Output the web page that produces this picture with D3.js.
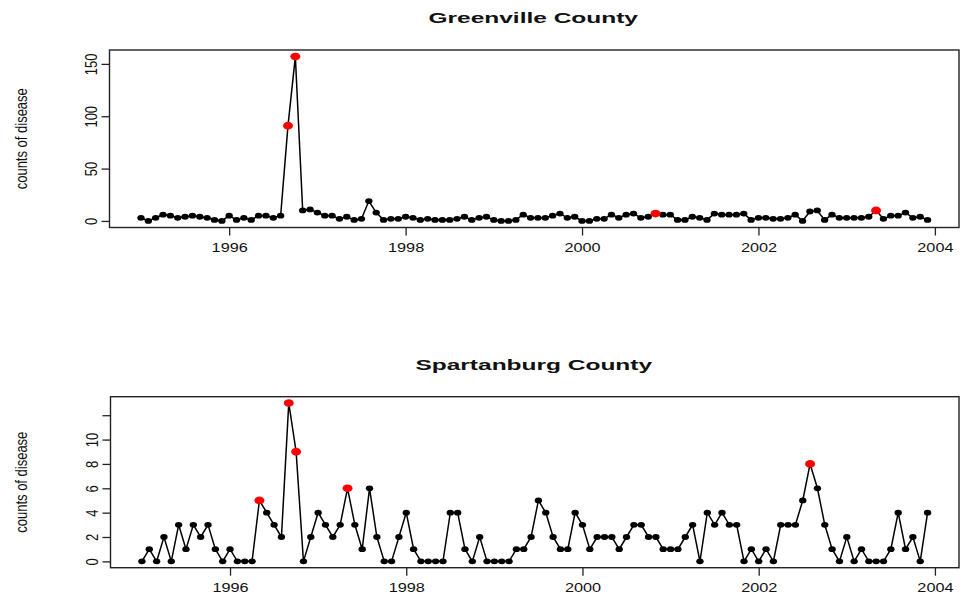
<!DOCTYPE html>
<html>
<head>
<meta charset="utf-8">
<script src="https://cdn.jsdelivr.net/npm/d3@7"></script>
<style>
  html, body { margin: 0; padding: 0; background: #fff; }
  svg { display: block; font-family: "Liberation Sans", Arial, Helvetica, sans-serif; }
</style>
</head>
<body>
<svg id="chart" width="964" height="600"></svg>
<script>
// Monthly counts of disease, January 1995 through December 2003
const startYear = 1995;

const greenvilleCounts = [
  3, 0, 3, 6, 5, 3, 4, 5, 4, 3, 1, 0,
  5, 1, 3, 1, 5, 5, 3, 5, 91, 157, 10, 11,
  8, 5, 5, 2, 4, 1, 2, 19, 8, 1, 2, 2,
  4, 3, 1, 2, 1, 1, 1, 2, 4, 1, 3, 4,
  1, 0, 0, 1, 6, 3, 3, 3, 5, 7, 3, 4,
  0, 0, 2, 2, 6, 3, 6, 7, 3, 4, 7, 6,
  6, 1, 1, 4, 3, 1, 7, 6, 6, 6, 7, 1,
  3, 3, 2, 2, 3, 6, 0, 9, 10, 1, 6, 3,
  3, 3, 3, 4, 10, 2, 5, 5, 8, 3, 4, 1
];

const spartanburgCounts = [
  0, 1, 0, 2, 0, 3, 1, 3, 2, 3, 1, 0,
  1, 0, 0, 0, 5, 4, 3, 2, 13, 9, 0, 2,
  4, 3, 2, 3, 6, 3, 1, 6, 2, 0, 0, 2,
  4, 1, 0, 0, 0, 0, 4, 4, 1, 0, 2, 0,
  0, 0, 0, 1, 1, 2, 5, 4, 2, 1, 1, 4,
  3, 1, 2, 2, 2, 1, 2, 3, 3, 2, 2, 1,
  1, 1, 2, 3, 0, 4, 3, 4, 3, 3, 0, 1,
  0, 1, 0, 3, 3, 3, 5, 8, 6, 3, 1, 0,
  2, 0, 1, 0, 0, 0, 1, 4, 1, 2, 0, 4
];

// Months flagged as alarms (year-month)
const greenvilleAlarms = ["1996-09", "1996-10", "2000-11", "2003-05"];
const spartanburgAlarms = ["1996-05", "1996-09", "1996-10", "1997-05", "2002-08"];

const xTickValues = [1996, 1998, 2000, 2002, 2004];
const greenvilleYTicks = [0, 50, 100, 150];
const greenvilleYLabels = ["0", "50", "100", "150"];
const spartanburgYTicks = [0, 2, 4, 6, 8, 10, 12];
const spartanburgYLabels = ["0", "2", "4", "6", "8", "10", ""];

const panelTitles = ["Greenville County", "Spartanburg County"];
const yAxisTitle = "counts of disease";

const svg = d3.select("#chart");

const panels = [
  { title: panelTitles[0], counts: greenvilleCounts, alarms: greenvilleAlarms,
    yTicks: greenvilleYTicks, yLabels: greenvilleYLabels,
    box: { left: 109.5, right: 959, top: 50, bottom: 227.5 }, titleY: 22.5 },
  { title: panelTitles[1], counts: spartanburgCounts, alarms: spartanburgAlarms,
    yTicks: spartanburgYTicks, yLabels: spartanburgYLabels,
    box: { left: 110.5, right: 959, top: 396.7, bottom: 567.7 }, titleY: 369.5 }
];

function monthKey(i) {
  const y = startYear + Math.floor(i / 12);
  const m = (i % 12) + 1;
  return y + "-" + (m < 10 ? "0" + m : m);
}

// R-style axis range: data extent padded by 4% on each side
function padded(ext) {
  const pad = (ext[1] - ext[0]) * 0.04;
  return [ext[0] - pad, ext[1] + pad];
}

panels.forEach(p => {
  const data = p.counts.map((v, i) => ({
    t: startYear + i / 12,
    v: v,
    alarm: p.alarms.includes(monthKey(i))
  }));

  const x = d3.scaleLinear()
    .domain(padded(d3.extent(data, d => d.t)))
    .range([p.box.left, p.box.right]);
  const y = d3.scaleLinear()
    .domain(padded([0, d3.max(data, d => d.v)]))
    .range([p.box.bottom, p.box.top]);

  const g = svg.append("g");

  // frame
  g.append("rect")
    .attr("x", p.box.left).attr("y", p.box.top)
    .attr("width", p.box.right - p.box.left)
    .attr("height", p.box.bottom - p.box.top)
    .attr("fill", "none").attr("stroke", "#222").attr("stroke-width", 1.4);

  // x axis
  const xAxis = g.append("g")
    .attr("transform", `translate(0,${p.box.bottom})`)
    .call(d3.axisBottom(x).tickValues(xTickValues).tickFormat(d3.format("d"))
      .tickSize(8).tickPadding(0));
  xAxis.select(".domain").remove();
  xAxis.selectAll(".tick line").attr("stroke", "#222").attr("stroke-width", 1.3);
  xAxis.selectAll(".tick text").remove();
  xAxis.selectAll(".tick").append("text")
    .attr("transform", "translate(0,24) scale(1.25,1)")
    .attr("text-anchor", "middle")
    .attr("fill", "#111")
    .attr("font-size", 13)
    .text(d => d3.format("d")(d));

  // y axis with rotated tick labels
  const yAxis = g.append("g")
    .attr("transform", `translate(${p.box.left},0)`)
    .call(d3.axisLeft(y).tickValues(p.yTicks).tickSize(8).tickFormat(""));
  yAxis.select(".domain").remove();
  yAxis.selectAll(".tick line").attr("stroke", "#222").attr("stroke-width", 1.3);
  yAxis.selectAll(".tick").append("text")
    .attr("transform", "translate(-13,0) scale(1.25,1) rotate(-90)")
    .attr("text-anchor", "middle")
    .attr("fill", "#111")
    .attr("font-size", 13)
    .text((d, i) => p.yLabels[i]);

  // y axis title
  g.append("text")
    .attr("transform", `translate(27,${(p.box.top + p.box.bottom) / 2}) scale(1.25,1) rotate(-90)`)
    .attr("text-anchor", "middle")
    .attr("fill", "#111")
    .attr("font-size", 13)
    .text(yAxisTitle);

  // panel title
  g.append("text")
    .attr("transform", `translate(${(p.box.left + p.box.right) / 2 - 1},${p.titleY}) scale(1.58,1)`)
    .attr("text-anchor", "middle")
    .attr("font-weight", "bold")
    .attr("fill", "#111")
    .attr("font-size", 15.5)
    .text(p.title);

  // series line
  g.append("path")
    .datum(data)
    .attr("fill", "none")
    .attr("stroke", "#000")
    .attr("stroke-width", 1.5)
    .attr("d", d3.line().x(d => x(d.t)).y(d => y(d.v)));

  // monthly points
  g.selectAll("ellipse.pt")
    .data(data.filter(d => !d.alarm))
    .join("ellipse")
    .attr("class", "pt")
    .attr("cx", d => x(d.t)).attr("cy", d => y(d.v))
    .attr("rx", 3.7).attr("ry", 2.9)
    .attr("fill", "#000");

  // alarm points
  g.selectAll("ellipse.alarm")
    .data(data.filter(d => d.alarm))
    .join("ellipse")
    .attr("class", "alarm")
    .attr("cx", d => x(d.t)).attr("cy", d => y(d.v))
    .attr("rx", 5).attr("ry", 3.9)
    .attr("fill", "#ff0000");
});
</script>
</body>
</html>
